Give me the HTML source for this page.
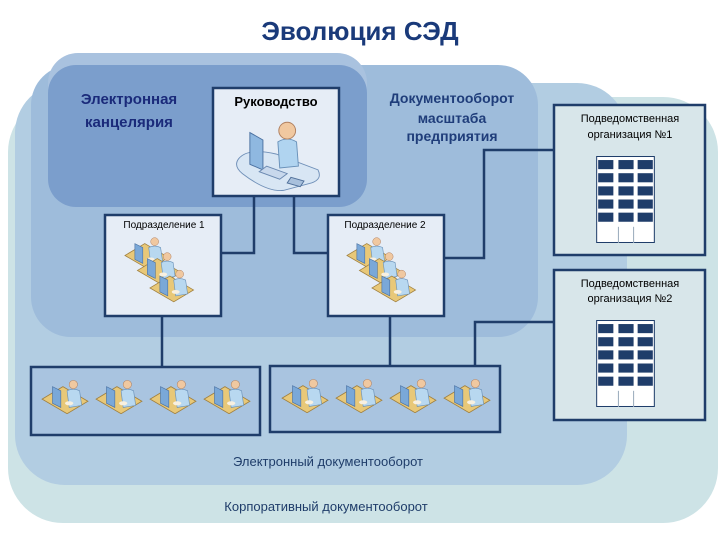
<!DOCTYPE html>
<html><head><meta charset="utf-8"><style>
html,body{margin:0;padding:0;background:#fff;}
svg{display:block;font-family:"Liberation Sans","DejaVu Sans",sans-serif;}
</style></head><body>
<svg width="720" height="540" viewBox="0 0 720 540" xmlns="http://www.w3.org/2000/svg">
<defs>
<symbol id="w" viewBox="0 0 48 34">
  <polygon points="2,20 22,8 46,22 26,34" fill="#e8c878" stroke="#a08040" stroke-width="0.8"/>
  <polygon points="12,8 20,12 20,28 12,24" fill="#7aa8d8" stroke="#4a70a0" stroke-width="0.6"/>
  <path d="M26,12 Q32,9 38,12 L40,26 L28,28 Z" fill="#b8d8f0" stroke="#6890b8" stroke-width="0.6"/>
  <circle cx="32" cy="6" r="4" fill="#f0c8a0" stroke="#b08060" stroke-width="0.5"/>
  <ellipse cx="28" cy="24" rx="4" ry="2" fill="#f8f0e0"/>
</symbol>
<symbol id="m" viewBox="0 0 100 90">
  <path d="M10,50 Q20,38 50,45 L95,62 Q100,72 88,76 L58,84 Q40,86 14,66 Q4,58 10,50Z" fill="#d8e6f4" stroke="#7090b8"/>
  <polygon points="22,22 36,30 36,62 22,56" fill="#8fb8e0" stroke="#4a70a0"/>
  <path d="M52,32 Q62,26 72,32 L74,58 L54,60 Z" fill="#b0d4f0" stroke="#6890b8"/>
  <circle cx="62" cy="20" r="9" fill="#f0c8a0" stroke="#b08060"/>
  <polygon points="40,58 62,66 54,72 32,64" fill="#c8d8ec" stroke="#6a88b0"/>
  <polygon points="66,70 80,74 76,80 62,76" fill="#a8c0dc" stroke="#50709a"/>
</symbol>
<symbol id="g" viewBox="0 0 60 60">
  <use href="#w" x="0" y="0" width="38" height="28"/>
  <use href="#w" x="10" y="12" width="38" height="28"/>
  <use href="#w" x="20" y="26" width="38" height="28"/>
</symbol>
<symbol id="b" viewBox="0 0 58 86">
  <rect x="0.5" y="0.5" width="57" height="85" fill="#fff" stroke="#1f3d6a"/>
  <g fill="#1f3d6a">
   <rect x="2" y="4" width="15" height="9"/><rect x="22" y="4" width="15" height="9"/><rect x="41" y="4" width="15" height="9"/>
   <rect x="2" y="17" width="15" height="9"/><rect x="22" y="17" width="15" height="9"/><rect x="41" y="17" width="15" height="9"/>
   <rect x="2" y="30" width="15" height="9"/><rect x="22" y="30" width="15" height="9"/><rect x="41" y="30" width="15" height="9"/>
   <rect x="2" y="43" width="15" height="9"/><rect x="22" y="43" width="15" height="9"/><rect x="41" y="43" width="15" height="9"/>
   <rect x="2" y="56" width="15" height="9"/><rect x="22" y="56" width="15" height="9"/><rect x="41" y="56" width="15" height="9"/>
  </g>
  <line x1="22" y1="70" x2="22" y2="86" stroke="#9ab"/><line x1="37" y1="70" x2="37" y2="86" stroke="#9ab"/>
</symbol>
</defs>
<text x="360" y="40" text-anchor="middle" font-size="26" font-weight="bold" fill="#1a3a7a">Эволюция СЭД</text>
<rect x="8" y="97" width="710" height="426" rx="55" fill="#cde3e6"/>
<rect x="15" y="83" width="612" height="402" rx="50" fill="#b2cde2"/>
<rect x="31" y="65" width="507" height="272" rx="40" fill="#9ebcdb"/>
<rect x="48" y="53" width="319" height="154" rx="30" fill="#a9c2df"/>
<rect x="48" y="65" width="319" height="142" rx="28" fill="#7b9ecc"/>
<text x="129" y="104" text-anchor="middle" font-size="15" font-weight="bold" fill="#1a2a7a">Электронная</text>
<text x="129" y="127" text-anchor="middle" font-size="15" font-weight="bold" fill="#1a2a7a">канцелярия</text>
<text x="452" y="103" text-anchor="middle" font-size="14" font-weight="bold" fill="#1f3d7a">Документооборот</text>
<text x="452" y="123" text-anchor="middle" font-size="14" font-weight="bold" fill="#1f3d7a">масштаба</text>
<text x="452" y="141" text-anchor="middle" font-size="14" font-weight="bold" fill="#1f3d7a">предприятия</text>
<text x="328" y="466" text-anchor="middle" font-size="13" fill="#1f3d6a">Электронный документооборот</text>
<text x="326" y="511" text-anchor="middle" font-size="13" fill="#1f3d6a">Корпоративный документооборот</text>
<g stroke="#1f3d6a" stroke-width="2.5" fill="none">
<polyline points="254,196 254,253 221,253"/>
<polyline points="294,196 294,253 328,253"/>
<polyline points="444,258 484,258 484,150 554,150"/>
<line x1="162" y1="316" x2="162" y2="367"/>
<line x1="390" y1="316" x2="390" y2="366"/>
<polyline points="475,366 475,322 554,322"/>
</g>
<g stroke="#1f3d6a" stroke-width="2.5">
<rect x="213" y="88" width="126" height="108" fill="#e6edf6"/>
<rect x="105" y="215" width="116" height="101" fill="#e6edf6"/>
<rect x="328" y="215" width="116" height="101" fill="#e6edf6"/>
<rect x="31" y="367" width="229" height="68" fill="#a9c4e0"/>
<rect x="270" y="366" width="230" height="66" fill="#a9c4e0"/>
<rect x="554" y="105" width="151" height="150" fill="#d8e6ea"/>
<rect x="554" y="270" width="151" height="150" fill="#d8e6ea"/>
</g>
<text x="276" y="106" text-anchor="middle" font-size="13" font-weight="bold" fill="#000">Руководство</text>
<text x="164" y="228" text-anchor="middle" font-size="10" fill="#000">Подразделение 1</text>
<text x="385" y="228" text-anchor="middle" font-size="10" fill="#000">Подразделение 2</text>
<text x="630" y="122" text-anchor="middle" font-size="11" fill="#000">Подведомственная</text>
<text x="630" y="138" text-anchor="middle" font-size="11" fill="#000">организация №1</text>
<text x="630" y="287" text-anchor="middle" font-size="11" fill="#000">Подведомственная</text>
<text x="630" y="302" text-anchor="middle" font-size="11" fill="#000">организация №2</text>
<use href="#m" x="226" y="112" width="100" height="84"/>
<use href="#g" x="123" y="235" width="75" height="75"/>
<use href="#g" x="345" y="235" width="75" height="75"/>
<use href="#w" x="40" y="378" width="50" height="36"/>
<use href="#w" x="94" y="378" width="50" height="36"/>
<use href="#w" x="148" y="378" width="50" height="36"/>
<use href="#w" x="202" y="378" width="50" height="36"/>
<use href="#w" x="280" y="377" width="50" height="36"/>
<use href="#w" x="334" y="377" width="50" height="36"/>
<use href="#w" x="388" y="377" width="50" height="36"/>
<use href="#w" x="442" y="377" width="50" height="36"/>
<use href="#b" x="596" y="156" width="59" height="87"/>
<use href="#b" x="596" y="320" width="59" height="87"/>
</svg>
</body></html>
